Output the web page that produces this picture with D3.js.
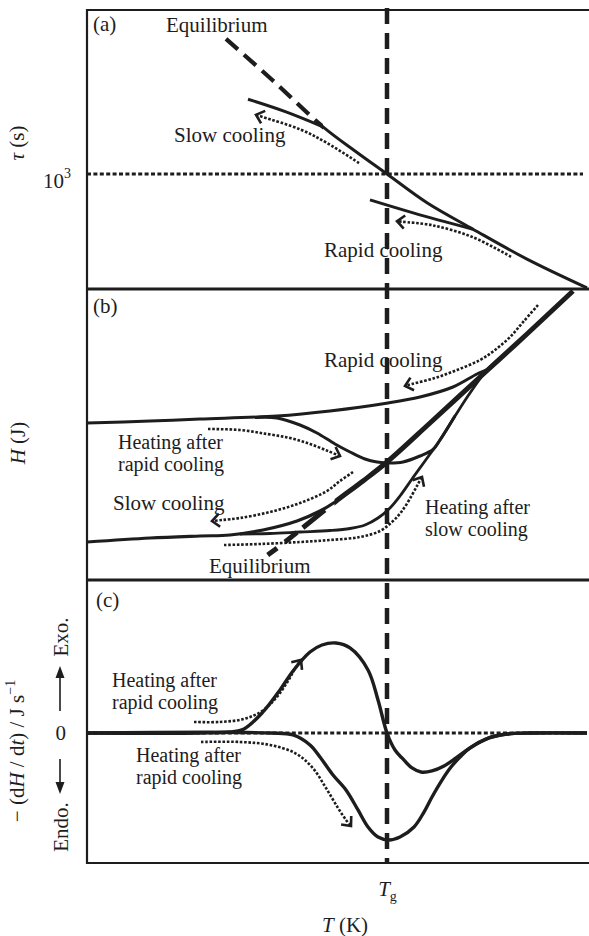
<!DOCTYPE html>
<html>
<head>
<meta charset="utf-8">
<script src="https://cdn.jsdelivr.net/npm/d3@7"></script>
<style>
  html, body { margin: 0; padding: 0; background: #fff; }
  svg { display: block; }
</style>
</head>
<body>
<svg id="chart" width="589" height="936"></svg>
<script>
// ---------- data (temperature in arbitrary units, Tg = 60) ----------
const tempDomain = [0, 100];
const glassTemp = 60;

// (a) relaxation time, log10(tau / s)
const tauDomain = [1, 5];
const tauRefLog = 3;
const tauEquilibrium = [[27.8, 5.35], [37, 4.64], [47.2, 3.82], [53.6, 3.40], [60, 3.0], [68, 2.50], [77.2, 2.04], [88, 1.52], [100, 1.02]];
const tauEqSolidFrom = 47.2;
const tauSlowGlass = [[32.2, 4.30], [39.8, 4.08], [47.2, 3.82]];
const tauRapidGlass = [[56.6, 2.55], [65.4, 2.32], [77.2, 2.04]];
const tauSlowPath = [[54.4, 3.19], [48, 3.54], [42.8, 3.77], [35.2, 3.99], [33.8, 4.03]];
const tauRapidPath = [[84.8, 1.56], [77.2, 1.90], [69, 2.11], [63, 2.17], [62, 2.18]];

// (b) enthalpy
const enthalpyDomain = [0, 100];
const hEquilibrium = [[35.6, 7.93], [39.6, 13.1], [43.6, 18.62], [49.6, 26.9], [55.2, 34.14], [60, 40.69], [68.6, 54.14], [78.6, 70.0], [88, 84.83], [97.2, 99.66]];
const hEqSolidFrom = 49.6;
const hRapidGlass = [[0, 54.14], [12.6, 54.83], [22.6, 55.52], [38, 56.55], [48.6, 58.28], [60.2, 61.03], [66.6, 63.10], [73.2, 66.55], [78, 71.03], [80.6, 73.1], [84.6, 79.48]];
const hSlowGlass = [[0, 13.10], [12.6, 14.48], [22.6, 15.17], [28.6, 15.52], [35.2, 17.24], [42, 20.34], [46.6, 23.79], [49.6, 26.9], [55.2, 34.14]];
const hHeatRapid = [[33.6, 56.03], [38, 55.86], [42.6, 53.45], [46, 50.69], [49.6, 46.90], [52.6, 44.14], [55.6, 41.72], [58, 40.69], [60.6, 40.34], [63.2, 40.69], [66.6, 42.76], [69.2, 45.0], [70.6, 48.28], [73.6, 56.55]];
const hHeatSlow = [[30.6, 15.86], [36.6, 16.03], [42.6, 16.55], [48.6, 17.07], [52.6, 17.76], [55.6, 18.97], [58.2, 21.38], [60.6, 24.83], [62.6, 28.97], [65, 34.83], [67.6, 41.03], [70.6, 48.28], [73.6, 56.55], [76.6, 64.48], [80, 72.41], [84.6, 79.48]];
const hRapidPath = [[90.2, 94.83], [87.4, 89.31], [84.6, 83.79], [81.6, 79.31], [78.6, 75.86], [74, 72.41], [69.6, 69.66], [65, 67.59], [63.6, 66.9]];
const hHeatRapidPath = [[24.2, 52.07], [30.6, 51.72], [36, 50.34], [40.6, 48.97], [44.6, 46.90], [48.2, 44.48], [50.6, 42.76]];
const hSlowPath = [[53.2, 37.24], [50.6, 34.14], [48, 30.69], [42.6, 26.55], [36.6, 23.45], [30.6, 21.38], [27, 20.69], [25, 20.34]];
const hHeatSlowPath = [[27.4, 12.07], [34.6, 12.41], [42.6, 13.10], [48.6, 13.79], [54.6, 14.83], [58.6, 16.90], [61, 20.0], [63, 23.79], [65, 29.31], [66.2, 33.10], [67, 35.52]];

// (c) heat flow, -(dH/dt)
const flowDomain = [-1, 1];
const flowZero = 0;
const flowRapid = [[0, 0], [22.6, 0], [28.6, 0.008], [31.4, 0.031], [35.2, 0.162], [38.6, 0.331], [41.2, 0.477], [44.6, 0.623], [47, 0.677], [49.8, 0.692], [52.6, 0.654], [56.2, 0.485], [58.2, 0.254], [60, 0], [61.6, -0.131], [63, -0.192], [65, -0.269], [66.8, -0.300], [69, -0.292], [71.4, -0.254], [73.8, -0.192], [76.6, -0.115], [80.4, -0.038], [84, -0.008], [88.6, 0], [100, 0]];
const flowSlow = [[0, 0], [36.6, 0], [41.2, -0.015], [44.6, -0.092], [46.6, -0.185], [49.2, -0.323], [51.8, -0.438], [54.2, -0.592], [56.2, -0.723], [58.2, -0.800], [60.4, -0.823], [62.6, -0.800], [65.4, -0.723], [67.4, -0.608], [69, -0.492], [71, -0.362], [72.8, -0.262], [74.6, -0.185], [76.6, -0.115], [80.4, -0.038], [84, -0.008], [88.6, 0], [100, 0]];
const flowUpPath = [[21.4, 0.085], [26.6, 0.085], [31.4, 0.108], [35, 0.169], [37.8, 0.269], [40.2, 0.40], [41.8, 0.508], [42.8, 0.562]];
const flowDownPath = [[22.8, -0.069], [30.6, -0.069], [36.6, -0.092], [41.6, -0.154], [45, -0.262], [47.8, -0.423], [50.2, -0.577], [51.8, -0.669], [52.8, -0.715]];

// ---------- layout ----------
const frameLeft = 87, frameRight = 589;
const frameTop = 10, splitAB = 289, splitBC = 580, frameBottom = 863;
const ink = "#1d1d1d";
const font = "'Liberation Serif', 'Times New Roman', serif";
const fs = 21;      // single-line labels
const fs2 = 20;     // two-line annotations
const lead = 22.5;  // line spacing of two-line annotations

const svg = d3.select("#chart");

const x = d3.scaleLinear().domain(tempDomain).range([87, 587]);
const yA = d3.scaleLinear().domain(tauDomain).range([289, 59]);
const yB = d3.scaleLinear().domain(enthalpyDomain).range([580, 290]);
const yC = d3.scaleLinear().domain(flowDomain).range([863, 603]);

const curve = d3.curveCatmullRom.alpha(0.5);
const lineFor = y => d3.line().x(d => x(d[0])).y(d => y(d[1])).curve(curve);

// clip regions used to split the equilibrium lines into dashed / solid parts
const defs = svg.append("defs");
function clipRect(id, x0, x1, y0, y1) {
  defs.append("clipPath").attr("id", id).append("rect")
    .attr("x", x0).attr("y", y0).attr("width", x1 - x0).attr("height", y1 - y0);
}
clipRect("a-solid", x(tauEqSolidFrom), frameRight, frameTop, splitAB);
clipRect("a-dash", frameLeft, x(tauEqSolidFrom), frameTop, splitAB);
clipRect("b-solid", x(hEqSolidFrom) - 0.5, frameRight, splitAB, splitBC);
clipRect("b-dash", frameLeft, x(hEqSolidFrom) + 1, splitAB, splitBC);

// ---------- helpers ----------
function curvePath(g, data, y, width, dash) {
  const p = g.append("path").attr("d", lineFor(y)(data))
    .attr("fill", "none").attr("stroke", ink).attr("stroke-width", width)
    .attr("stroke-linejoin", "round");
  if (dash) p.attr("stroke-dasharray", dash);
  return p;
}
function dottedArrow(g, data, y) {
  curvePath(g, data, y, 2.6, "2.6,1.7");
  const n = data.length;
  const x1 = x(data[n - 2][0]), y1 = y(data[n - 2][1]);
  const x2 = x(data[n - 1][0]), y2 = y(data[n - 1][1]);
  const a = Math.atan2(y2 - y1, x2 - x1);
  const L = 10, s = 0.72;
  const p1 = [x2 - L * Math.cos(a - s), y2 - L * Math.sin(a - s)];
  const p2 = [x2 - L * Math.cos(a + s), y2 - L * Math.sin(a + s)];
  g.append("path").attr("d", `M${p1}L${x2},${y2}L${p2}`)
    .attr("fill", "none").attr("stroke", ink).attr("stroke-width", 2.6)
    .attr("stroke-linejoin", "miter");
}
function label(g, tx, ty, str, opts = {}) {
  const t = g.append("text").attr("x", tx).attr("y", ty)
    .attr("font-family", font).attr("font-size", opts.size || fs)
    .attr("fill", ink).attr("text-anchor", opts.anchor || "start");
  if (str !== null) t.text(str);
  return t;
}
// two stacked lines centred vertically on cy
function label2(g, tx, cy, l1, l2) {
  label(g, tx, cy - lead / 2 + 7, l1, { size: fs2 });
  label(g, tx, cy + lead / 2 + 7, l2, { size: fs2 });
}

// ---------- frame ----------
const frame = svg.append("g").attr("stroke", ink).attr("fill", "none");
frame.append("path").attr("d", `M${frameRight},${frameTop}H${frameLeft}V${frameBottom}H${frameRight}`).attr("stroke-width", 2.2);
frame.append("line").attr("x1", frameLeft).attr("x2", frameRight).attr("y1", splitAB).attr("y2", splitAB).attr("stroke-width", 3);
frame.append("line").attr("x1", frameLeft).attr("x2", frameRight).attr("y1", splitBC).attr("y2", splitBC).attr("stroke-width", 3);

// glass transition temperature marker through all panels
svg.append("line").attr("x1", x(glassTemp)).attr("x2", x(glassTemp))
  .attr("y1", frameTop - 2).attr("y2", frameBottom)
  .attr("stroke", ink).attr("stroke-width", 4.5).attr("stroke-dasharray", "16,9");

// ---------- (a) relaxation time ----------
const gA = svg.append("g");
gA.append("line").attr("x1", frameLeft).attr("x2", x(99.2))
  .attr("y1", yA(tauRefLog)).attr("y2", yA(tauRefLog))
  .attr("stroke", ink).attr("stroke-width", 3).attr("stroke-dasharray", "4,2.4");
curvePath(gA, tauEquilibrium, yA, 4.2, "16,8").attr("clip-path", "url(#a-dash)");
curvePath(gA, tauEquilibrium, yA, 3).attr("clip-path", "url(#a-solid)");
curvePath(gA, tauSlowGlass, yA, 3);
curvePath(gA, tauRapidGlass, yA, 3);
dottedArrow(gA, tauSlowPath, yA);
dottedArrow(gA, tauRapidPath, yA);

label(gA, 93, 31, "(a)");
label(gA, 166, 32, "Equilibrium");
label(gA, 174, 142, "Slow cooling");
label(gA, 324, 257, "Rapid cooling");

const axA = svg.append("g").attr("transform", `translate(${frameLeft},0)`)
  .call(d3.axisLeft(yA).tickValues([tauRefLog]).tickSize(0).tickPadding(16).tickFormat(() => "10"));
axA.select(".domain").remove();
axA.selectAll("text").attr("font-family", font).attr("font-size", fs).attr("fill", ink).attr("dy", "0.66em")
  .append("tspan").attr("font-size", 14).attr("dy", -10).text("3");

const tauLabel = label(svg, 0, 0, null, { anchor: "middle" }).attr("transform", "translate(24,143) rotate(-90)");
tauLabel.append("tspan").attr("font-style", "italic").text("τ");
tauLabel.append("tspan").text(" (s)");

// ---------- (b) enthalpy ----------
const gB = svg.append("g");
curvePath(gB, hRapidGlass, yB, 3);
curvePath(gB, hSlowGlass, yB, 3.2);
curvePath(gB, hHeatRapid, yB, 3);
curvePath(gB, hHeatSlow, yB, 2.8);
curvePath(gB, hEquilibrium, yB, 5, "0,3.5,11.5,10,15.5,7.5,28,400").attr("clip-path", "url(#b-dash)");
curvePath(gB, hEquilibrium, yB, 5).attr("clip-path", "url(#b-solid)");
dottedArrow(gB, hRapidPath, yB);
dottedArrow(gB, hHeatRapidPath, yB);
dottedArrow(gB, hSlowPath, yB);
dottedArrow(gB, hHeatSlowPath, yB);

label(gB, 93, 313, "(b)");
label(gB, 324, 367, "Rapid cooling");
label2(gB, 118, 453, "Heating after", "rapid cooling");
label(gB, 113, 510, "Slow cooling");
label2(gB, 425, 518, "Heating after", "slow cooling");
label(gB, 209, 573, "Equilibrium");

const hLabel = label(svg, 0, 0, null, { anchor: "middle" }).attr("transform", "translate(25,443) rotate(-90)");
hLabel.append("tspan").attr("font-style", "italic").text("H");
hLabel.append("tspan").text(" (J)");

// ---------- (c) heat flow ----------
const gC = svg.append("g");
gC.append("line").attr("x1", frameLeft).attr("x2", x(99.2))
  .attr("y1", yC(flowZero)).attr("y2", yC(flowZero))
  .attr("stroke", ink).attr("stroke-width", 3).attr("stroke-dasharray", "4,2.4");
curvePath(gC, flowRapid, yC, 3.4);
curvePath(gC, flowSlow, yC, 3.4);
dottedArrow(gC, flowUpPath, yC);
dottedArrow(gC, flowDownPath, yC);

label(gC, 96, 607, "(c)");
label2(gC, 112, 691, "Heating after", "rapid cooling");
label2(gC, 136, 766, "Heating after", "rapid cooling");

const axC = svg.append("g").attr("transform", `translate(${frameLeft},0)`)
  .call(d3.axisLeft(yC).tickValues([flowZero]).tickSize(0).tickPadding(21).tickFormat(d3.format("d")));
axC.select(".domain").remove();
axC.selectAll("text").attr("font-family", font).attr("font-size", fs).attr("fill", ink);

// exo / endo direction markers
const z0 = yC(flowZero);
const dir = svg.append("g").attr("fill", ink).attr("stroke", ink);
dir.append("line").attr("x1", 60).attr("x2", 60).attr("y1", z0 - 22).attr("y2", z0 - 58).attr("stroke-width", 1.6);
dir.append("path").attr("d", `M60,${z0 - 67}L55.5,${z0 - 55}L64.5,${z0 - 55}Z`).attr("stroke", "none");
dir.append("line").attr("x1", 60).attr("x2", 60).attr("y1", z0 + 26).attr("y2", z0 + 52).attr("stroke-width", 1.6);
dir.append("path").attr("d", `M60,${z0 + 61}L55.5,${z0 + 49}L64.5,${z0 + 49}Z`).attr("stroke", "none");
label(svg, 0, 0, "Exo.", { anchor: "middle" }).attr("transform", `translate(68,${z0 - 96}) rotate(-90)`);
label(svg, 0, 0, "Endo.", { anchor: "middle" }).attr("transform", `translate(68,${z0 + 94}) rotate(-90)`);

const flowLabel = label(svg, 0, 0, null, { anchor: "middle" }).attr("transform", "translate(24,751) rotate(-90)");
flowLabel.append("tspan").text("− (d");
flowLabel.append("tspan").attr("font-style", "italic").text("H");
flowLabel.append("tspan").text(" / d");
flowLabel.append("tspan").attr("font-style", "italic").text("t");
flowLabel.append("tspan").text(") / J s");
flowLabel.append("tspan").attr("font-size", 14).attr("dy", -9).text("−1");

// ---------- temperature axis ----------
const axX = svg.append("g").attr("transform", `translate(0,${frameBottom})`)
  .call(d3.axisBottom(x).tickValues([glassTemp]).tickSize(0).tickPadding(18).tickFormat(() => ""));
axX.select(".domain").remove();
const tgText = axX.selectAll("text").attr("font-family", font).attr("font-size", fs).attr("fill", ink);
tgText.append("tspan").attr("font-style", "italic").text("T");
tgText.append("tspan").attr("font-size", 14).attr("dy", 5).text("g");

const tLabel = label(svg, 345, 932, null, { anchor: "middle" });
tLabel.append("tspan").attr("font-style", "italic").text("T");
tLabel.append("tspan").text(" (K)");
</script>
</body>
</html>
